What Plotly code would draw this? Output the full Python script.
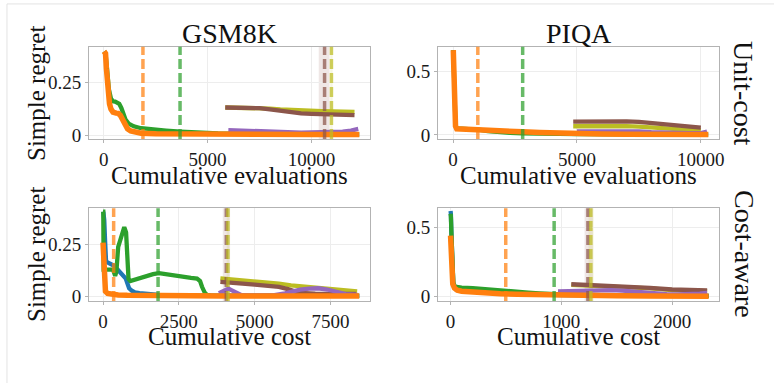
import plotly.graph_objects as go

# ---------------- data ----------------
# Panel 1: GSM8K, unit-cost (x = cumulative evaluations)
gu_orange_x = [20, 90, 130, 170, 220, 280, 350, 450, 600, 700, 800, 900, 1000, 1150, 1300, 1500, 1800, 2500, 4000, 6000, 8000, 10000, 12300]
gu_orange_y = [0.40, 0.39, 0.32, 0.24, 0.19, 0.15, 0.125, 0.11, 0.105, 0.104, 0.095, 0.075, 0.05, 0.03, 0.02, 0.013, 0.009, 0.007, 0.005, 0.004, 0.003, 0.003, 0.003]
gu_green_x = [20, 90, 150, 250, 350, 450, 550, 650, 750, 850, 950, 1050, 1200, 1450, 1800, 2300, 3000, 3700, 4500, 5500, 7000, 9000, 12300]
gu_green_y = [0.40, 0.39, 0.33, 0.22, 0.175, 0.162, 0.16, 0.157, 0.15, 0.13, 0.10, 0.075, 0.055, 0.042, 0.033, 0.027, 0.022, 0.017, 0.012, 0.008, 0.005, 0.004, 0.003]
gu_purple_x = [6000, 6500, 7000, 7500, 8000, 8500, 9000, 9500, 10000, 10500, 11000, 11500, 11900, 12250]
gu_purple_y = [0.024, 0.022, 0.02, 0.018, 0.015, 0.012, 0.011, 0.012, 0.013, 0.014, 0.015, 0.017, 0.022, 0.030]
gu_brown_x = [5850, 6500, 7000, 7500, 8000, 8500, 9000, 9500, 10000, 10500, 11000, 11500, 12070]
gu_brown_y = [0.132, 0.132, 0.132, 0.129, 0.123, 0.115, 0.108, 0.104, 0.102, 0.100, 0.099, 0.098, 0.096]
gu_olive_y = [0.132, 0.132, 0.132, 0.130, 0.127, 0.123, 0.120, 0.118, 0.116, 0.115, 0.114, 0.113, 0.111]
gu_vlines = {"orange": 1890, "green": 3675, "brown": 10630, "olive": 10960}
gu_bands = {"brown": (10350, 10870), "olive": (10900, 11020)}

# Panel 2: PIQA, unit-cost
pu_orange_x = [10, 30, 60, 100, 150, 300, 800, 1300, 1800, 2300, 2800, 3500, 4200, 5000, 6000, 7000, 8000, 9000, 10300]
pu_orange_y = [0.67, 0.50, 0.25, 0.07, 0.048, 0.046, 0.045, 0.04, 0.033, 0.028, 0.024, 0.018, 0.013, 0.009, 0.007, 0.005, 0.004, 0.003, 0.002]
pu_green_x = [10, 30, 60, 100, 150, 400, 800, 1100, 1400, 1800, 2300, 2800, 3500, 5000, 7000, 10300]
pu_green_y = [0.67, 0.50, 0.25, 0.07, 0.052, 0.05, 0.048, 0.04, 0.03, 0.022, 0.016, 0.012, 0.009, 0.006, 0.004, 0.002]
pu_purple_x = [5000, 5500, 6000, 6500, 7000, 7500, 8000, 8500, 9000, 9500, 10000, 10250]
pu_purple_y = [0.027, 0.028, 0.028, 0.029, 0.030, 0.028, 0.022, 0.017, 0.014, 0.013, 0.014, 0.026]
pu_brown_x = [4850, 5500, 6000, 6500, 7000, 7500, 8000, 8500, 9000, 9500, 10000]
pu_brown_y = [0.105, 0.107, 0.108, 0.108, 0.107, 0.102, 0.094, 0.083, 0.072, 0.064, 0.058]
pu_olive_y = [0.068, 0.070, 0.070, 0.070, 0.069, 0.065, 0.058, 0.050, 0.044, 0.040, 0.038]
pu_vlines = {"orange": 1000, "green": 2810}
pu_bands = {}

# Panel 3: GSM8K, cost-aware (x = cumulative cost)
gc_orange_x = [0, 15, 30, 50, 80, 150, 300, 500, 800, 1200, 2000, 3000, 4000, 5000, 6000, 7000, 8450]
gc_orange_y = [0.26, 0.18, 0.08, 0.04, 0.025, 0.015, 0.010, 0.008, 0.006, 0.005, 0.004, 0.004, 0.003, 0.003, 0.003, 0.003, 0.003]
gc_blue_x = [10, 40, 70, 100, 150, 250, 350, 450, 550, 650, 750, 800, 860, 950, 1050, 1200, 1500, 1850, 2500, 3500, 5000, 8450]
gc_blue_y = [0.41, 0.37, 0.26, 0.17, 0.165, 0.16, 0.15, 0.135, 0.12, 0.10, 0.087, 0.065, 0.04, 0.028, 0.02, 0.016, 0.011, 0.008, 0.005, 0.004, 0.003, 0.003]
gc_green_x = [0, 8, 20, 60, 150, 250, 330, 400, 440, 500, 560, 620, 700, 760, 800, 840, 900, 1000, 1134, 1300, 1462, 1650, 1845, 2050, 2228, 2450, 2664, 2900, 3100, 3200, 3264, 3350, 3428, 3550, 4000, 5000, 8450]
gc_green_y = [0.41, 0.41, 0.13, 0.13, 0.135, 0.133, 0.13, 0.10, 0.12, 0.24, 0.27, 0.30, 0.335, 0.31, 0.15, 0.085, 0.075, 0.08, 0.087, 0.095, 0.103, 0.108, 0.113, 0.108, 0.103, 0.098, 0.092, 0.09, 0.087, 0.075, 0.047, 0.02, 0.008, 0.004, 0.003, 0.003, 0.003]
gc_purple_x = [3820, 3950, 4050, 4140, 4250, 4400, 4550, 4800, 5200, 5600, 6000, 6300, 6500, 6800, 7100, 7400, 7700, 8000, 8400]
gc_purple_y = [0.016, 0.025, 0.033, 0.038, 0.03, 0.018, 0.008, 0.005, 0.004, 0.006, 0.015, 0.026, 0.033, 0.038, 0.04, 0.034, 0.022, 0.012, 0.008]
gc_brown_x = [3870, 4140, 4600, 5000, 5400, 5800, 6100, 6300, 6500, 7000, 7500, 8000, 8340]
gc_brown_y = [0.071, 0.066, 0.062, 0.058, 0.053, 0.047, 0.036, 0.025, 0.017, 0.014, 0.013, 0.013, 0.013]
gc_olive_x = [3870, 4140, 4600, 5000, 5400, 5800, 6200, 6600, 7000, 7400, 7800, 8100, 8380]
gc_olive_y = [0.088, 0.085, 0.080, 0.074, 0.068, 0.062, 0.054, 0.048, 0.042, 0.036, 0.031, 0.028, 0.025]
gc_vlines = {"orange": 350, "green": 1815, "brown": 4065, "olive": 4120}
gc_bands = {"brown": (3950, 4190), "olive": (4080, 4160)}

# Panel 4: PIQA, cost-aware
pc_orange_x = [0, 5, 10, 20, 35, 60, 100, 200, 300, 450, 600, 800, 1000, 1200, 1500, 1800, 2100, 2330]
pc_orange_y = [0.44, 0.35, 0.20, 0.09, 0.06, 0.045, 0.038, 0.03, 0.025, 0.02, 0.016, 0.012, 0.009, 0.006, 0.004, 0.003, 0.002, 0.002]
pc_blue_x = [0, 3, 8, 15, 25, 50, 100, 300, 600, 1000, 1500, 2330]
pc_blue_y = [0.62, 0.60, 0.45, 0.20, 0.09, 0.05, 0.04, 0.03, 0.02, 0.01, 0.006, 0.004]
pc_green_x = [0, 3, 8, 15, 25, 40, 60, 100, 200, 300, 400, 500, 600, 700, 800, 900, 1000, 1500, 2330]
pc_green_y = [0.60, 0.58, 0.45, 0.20, 0.10, 0.07, 0.065, 0.063, 0.06, 0.052, 0.045, 0.038, 0.032, 0.027, 0.022, 0.018, 0.014, 0.008, 0.004]
pc_purple_x = [970, 1050, 1150, 1250, 1350, 1450, 1550, 1650, 1750, 1850, 1950, 2050, 2150, 2250, 2316]
pc_purple_y = [0.036, 0.038, 0.040, 0.038, 0.040, 0.045, 0.042, 0.035, 0.028, 0.020, 0.016, 0.015, 0.016, 0.020, 0.026]
pc_brown_x = [1090, 1200, 1400, 1600, 1800, 2000, 2200, 2316]
pc_brown_y = [0.088, 0.085, 0.078, 0.072, 0.062, 0.050, 0.045, 0.043]
pc_olive_y = [0.084, 0.081, 0.074, 0.068, 0.058, 0.046, 0.041, 0.039]
pc_vlines = {"orange": 498, "green": 935, "brown": 1240, "olive": 1266}
pc_bands = {"brown": (1210, 1285), "olive": (1245, 1292)}

col_titles = ["GSM8K", "PIQA"]
row_titles = ["Unit-cost", "Cost-aware"]
x_titles = ["Cumulative evaluations", "Cumulative evaluations", "Cumulative cost", "Cumulative cost"]
y_title = "Simple regret"

x_ticks = [[0, 5000, 10000], [0, 5000, 10000], [0, 2500, 5000, 7500], [0, 1000, 2000]]
y_ticks = [[0, 0.25], [0, 0.5], [0, 0.25], [0, 0.5]]
y_ticklabels = [["0", "0.25"], ["0", "0.5"], ["0", "0.25"], ["0", "0.5"]]

# ---------------- style ----------------
W, H = 774, 383
FONT = "Liberation Serif"
C = {"blue": "#1f77b4", "orange": "#ff7f0e", "green": "#2ca02c",
     "purple": "#9467bd", "brown": "#8c564b", "olive": "#bcbd22"}
RGBA_V = {"orange": "rgba(255,127,14,0.72)", "green": "rgba(44,160,44,0.72)",
          "brown": "rgba(140,86,75,0.72)", "olive": "rgba(188,189,34,0.72)"}
RGBA_B = {"brown": "rgba(140,86,75,0.14)", "olive": "rgba(188,189,34,0.14)"}

x_dom = [[89.7 / W, 372.7 / W], [441 / W, 724 / W]]
y_dom = [[1 - 141.7 / H, 1 - 47.5 / H], [1 - 306.7 / H, 1 - 212.0 / H]]
x_rng = [[-700, 12830], [-601, 10746], [-459, 8814], [-112, 2426]]
y_rng = [[-0.019, 0.423], [-0.0335, 0.697], [-0.022, 0.427], [-0.034, 0.64]]

fig = go.Figure()

panels = [
    dict(series=[("green", gu_green_x, gu_green_y), ("olive", gu_brown_x, gu_olive_y),
                 ("brown", gu_brown_x, gu_brown_y), ("purple", gu_purple_x, gu_purple_y),
                 ("orange", gu_orange_x, gu_orange_y)], vl=gu_vlines, bands=gu_bands),
    dict(series=[("green", pu_green_x, pu_green_y), ("olive", pu_brown_x, pu_olive_y),
                 ("brown", pu_brown_x, pu_brown_y), ("purple", pu_purple_x, pu_purple_y),
                 ("orange", pu_orange_x, pu_orange_y)], vl=pu_vlines, bands=pu_bands),
    dict(series=[("blue", gc_blue_x, gc_blue_y), ("green", gc_green_x, gc_green_y),
                 ("olive", gc_olive_x, gc_olive_y), ("brown", gc_brown_x, gc_brown_y),
                 ("purple", gc_purple_x, gc_purple_y), ("orange", gc_orange_x, gc_orange_y)],
         vl=gc_vlines, bands=gc_bands),
    dict(series=[("blue", pc_blue_x, pc_blue_y), ("green", pc_green_x, pc_green_y),
                 ("olive", pc_brown_x, pc_olive_y), ("brown", pc_brown_x, pc_brown_y),
                 ("purple", pc_purple_x, pc_purple_y), ("orange", pc_orange_x, pc_orange_y)],
         vl=pc_vlines, bands=pc_bands),
]

shapes = []
for i, p in enumerate(panels):
    k = "" if i == 0 else str(i + 1)
    xr, yr = "x" + k, "y" + k
    for name, xs, ys in p["series"]:
        fig.add_trace(go.Scatter(x=xs, y=ys, mode="lines", xaxis=xr, yaxis=yr,
                                 line=dict(color=C[name], width=5.5 if name == "orange" else 4.3),
                                 hoverinfo="skip", showlegend=False))
    for name, (a, b) in p["bands"].items():
        shapes.append(dict(type="rect", xref=xr, yref=yr + " domain", x0=a, x1=b, y0=0, y1=1,
                           fillcolor=RGBA_B[name], line=dict(width=0), layer="below"))
    for name, xv in p["vl"].items():
        shapes.append(dict(type="line", xref=xr, yref=yr + " domain", x0=xv, x1=xv, y0=0, y1=1,
                           line=dict(color=RGBA_V[name], width=3.5, dash="10px,4px")))

axis_common = dict(showline=True, mirror=True, linecolor="#b3b3b3", linewidth=1.2,
                   showgrid=True, gridcolor="#ededed", gridwidth=0.7, zeroline=False,
                   ticks="outside", ticklen=3, tickcolor="#b3b3b3", tickwidth=1,
                   tickfont=dict(family=FONT, size=19, color="#1a1a1a"), fixedrange=True)

layout = dict(width=W, height=H, autosize=False, margin=dict(l=0, r=0, t=0, b=0),
              paper_bgcolor="white", plot_bgcolor="white", showlegend=False)
for i in range(4):
    k = "" if i == 0 else str(i + 1)
    r, c = divmod(i, 2)
    layout["xaxis" + k] = dict(axis_common, domain=x_dom[c], range=x_rng[i], anchor="y" + k,
                               tickmode="array", tickvals=x_ticks[i],
                               ticktext=[str(v) for v in x_ticks[i]])
    layout["yaxis" + k] = dict(axis_common, domain=y_dom[r], range=y_rng[i], anchor="x" + k,
                               tickmode="array", tickvals=y_ticks[i], ticktext=y_ticklabels[i])

ann = []
def A(text, x, y, size, angle=0):
    ann.append(dict(text=text, x=x / W, y=1 - y / H, xref="paper", yref="paper",
                    xanchor="center", yanchor="middle", showarrow=False, textangle=angle,
                    font=dict(family=FONT, size=size, color="#111")))

A(col_titles[0], 231, 34.5, 28)
A(col_titles[1], 582.5, 34.5, 28)
A(x_titles[0], 231, 178.5, 25)
A(x_titles[1], 582.5, 178.5, 25)
A(x_titles[2], 231, 342.5, 25)
A(x_titles[3], 582.5, 342.5, 25)
A(y_title, 37, 95, 25, -90)
A(y_title, 37, 259, 25, -90)
A(row_titles[0], 749, 95, 28, 90)
A(row_titles[1], 750, 259, 28, 90)

shapes.append(dict(type="rect", xref="paper", yref="paper", x0=7 / W, x1=1.05, y0=-0.05,
                   y1=1 - 4 / H, line=dict(color="#e3e3e3", width=1), fillcolor="rgba(0,0,0,0)"))

layout["annotations"] = ann
layout["shapes"] = shapes
fig.update_layout(**layout)
fig.write_html("out.html", config={"displayModeBar": False},
               post_script="document.body.style.margin='0';document.body.style.overflow='hidden';")
